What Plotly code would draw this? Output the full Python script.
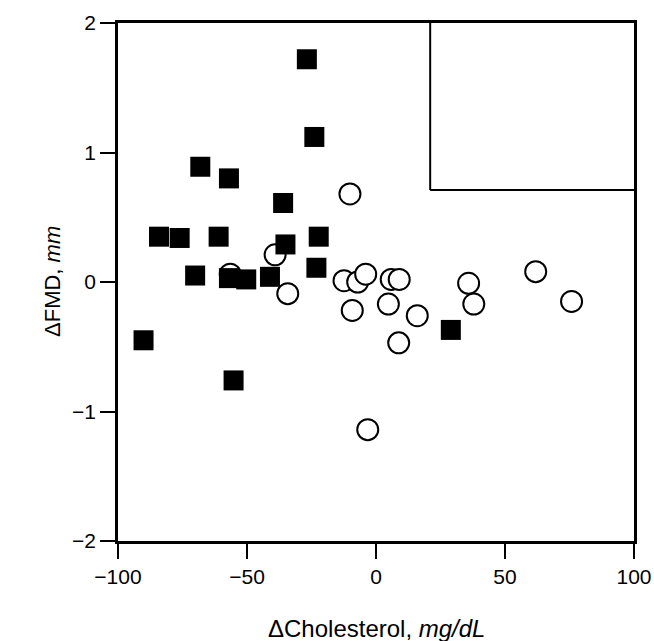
import plotly.graph_objects as go

# Filled squares group
sq_x = [-26.8, -23.9, -68.1, -57.0, -36.0, -84.1, -76.1, -61.0, -22.2, -35.1,
        -70.1, -57.0, -50.3, -41.1, -23.1, -90.1, -55.2, 29.0]
sq_y = [1.72, 1.12, 0.89, 0.80, 0.61, 0.35, 0.34, 0.35, 0.35, 0.29,
        0.05, 0.03, 0.02, 0.04, 0.11, -0.45, -0.76, -0.37]

# Open circles group
ci_x = [-10.1, -39.1, -56.5, -34.2, -12.4, -7.1, -4.0, 5.9, 9.0, -9.2,
        4.8, 16.0, 8.8, 35.9, 37.9, 61.9, 75.8, -3.2]
ci_y = [0.68, 0.21, 0.06, -0.09, 0.01, 0.0, 0.06, 0.02, 0.02, -0.22,
        -0.17, -0.26, -0.47, -0.01, -0.17, 0.08, -0.15, -1.14]

x_ticks = [-100, -50, 0, 50, 100]
y_ticks = [-2, -1, 0, 1, 2]

# Inner reference box
box_x0, box_y0 = 21, 0.71

FONT = "Liberation Sans, Arial, Helvetica, sans-serif"

fig = go.Figure()
fig.add_trace(go.Scatter(
    x=ci_x, y=ci_y, mode="markers",
    marker=dict(symbol="circle", size=21, color="white",
                line=dict(color="black", width=2)),
    showlegend=False, hoverinfo="skip", cliponaxis=False))
fig.add_trace(go.Scatter(
    x=sq_x, y=sq_y, mode="markers",
    marker=dict(symbol="square", size=20, color="black",
                line=dict(color="black", width=0)),
    showlegend=False, hoverinfo="skip", cliponaxis=False))

fig.add_shape(type="line", x0=box_x0, x1=box_x0, y0=box_y0, y1=2,
              line=dict(color="black", width=2))
fig.add_shape(type="line", x0=box_x0, x1=100, y0=box_y0, y1=box_y0,
              line=dict(color="black", width=2))

fig.add_annotation(text="ΔCholesterol, <i>mg/dL</i>", xref="paper", yref="paper",
                   x=0.5, y=0, yshift=-87, showarrow=False,
                   xanchor="center", yanchor="middle",
                   font=dict(family=FONT, size=24, color="black"))
fig.add_annotation(text="ΔFMD, <i>mm</i>", xref="paper", yref="paper",
                   x=0, y=0.5, xshift=-66, showarrow=False, textangle=-90,
                   xanchor="center", yanchor="middle",
                   font=dict(family=FONT, size=22, color="black"))

fig.update_layout(
    width=654, height=641,
    margin=dict(l=118, r=20, t=23, b=100),
    plot_bgcolor="white", paper_bgcolor="white",
    font=dict(family=FONT, size=21, color="black"),
    xaxis=dict(range=[-100, 100], tickvals=x_ticks, ticks="outside", ticklen=15,
               tickwidth=2, tickcolor="black", showline=True, linewidth=2.5,
               linecolor="black", mirror=True, showgrid=False, zeroline=False,
               automargin=False, tickfont=dict(family=FONT, size=21)),
    yaxis=dict(range=[-2, 2], tickvals=y_ticks, ticks="outside", ticklen=15,
               tickwidth=2, tickcolor="black", showline=True, linewidth=2.5,
               linecolor="black", mirror=True, showgrid=False, zeroline=False,
               automargin=False, tickfont=dict(family=FONT, size=21)),
)

# remove the default 8px page margin so the figure fills the window exactly
fig.write_html("out.html",
               config={"displayModeBar": False},
               post_script="document.body.style.margin='0';"
                           "document.body.style.overflow='hidden';")
